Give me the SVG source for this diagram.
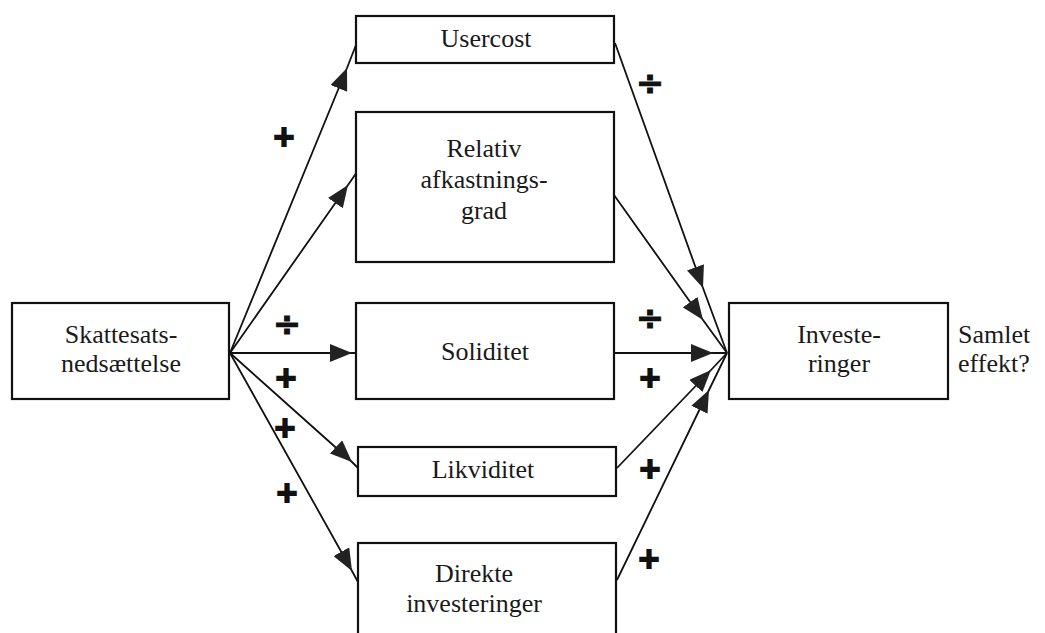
<svg xmlns="http://www.w3.org/2000/svg" width="1045" height="633" viewBox="0 0 1045 633">
<style>
.box{fill:#fff;stroke:#111;stroke-width:2.2}
.t{font-family:"Liberation Serif","Times New Roman",serif;font-size:26px;fill:#1a1a1a;text-anchor:middle}
.tl{font-family:"Liberation Serif","Times New Roman",serif;font-size:26px;fill:#1a1a1a}
.c{fill:none;stroke:#111;stroke-width:1.8}
.s{font-family:"DejaVu Sans",sans-serif;font-size:28px;font-weight:bold;fill:#111;stroke:#111;stroke-width:2;text-anchor:middle}
.d{font-family:"DejaVu Sans",sans-serif;font-size:34px;font-weight:bold;fill:#111;stroke:#111;stroke-width:0.9;text-anchor:middle}
</style>
<defs>
<marker id="ah" viewBox="0 0 22 18" refX="22" refY="9" markerWidth="22" markerHeight="18" markerUnits="userSpaceOnUse" orient="auto">
<path d="M0,0 L22,9 L0,18 Z" fill="#222"/>
</marker>
</defs>
<rect width="1045" height="633" fill="#fff"/>
<g id="connectors">
<path class="c" marker-mid="url(#ah)" d="M230,353 L347,68 L356,45"/>
<path class="c" marker-mid="url(#ah)" d="M230,353 L348,185 L357,172"/>
<path class="c" marker-mid="url(#ah)" d="M230,353 L352,353 L357,353"/>
<path class="c" marker-mid="url(#ah)" d="M230,353 L352,462 L358,468"/>
<path class="c" marker-mid="url(#ah)" d="M230,353 L352,571 L358,582"/>
<path class="c" marker-mid="url(#ah)" d="M615,43 L703,288 L727,353"/>
<path class="c" marker-mid="url(#ah)" d="M614,195 L703,320 L727,353"/>
<path class="c" marker-mid="url(#ah)" d="M614,353 L713,353 L727,353"/>
<path class="c" marker-mid="url(#ah)" d="M617,468 L711,370 L727,353"/>
<path class="c" marker-mid="url(#ah)" d="M617,580 L709,390 L727,353"/>
</g>
<g id="signs">
<text class="s" x="284" y="146">+</text>
<text class="d" x="287" y="335">÷</text>
<text class="s" x="286" y="387">+</text>
<text class="s" x="285" y="437">+</text>
<text class="s" x="287" y="502">+</text>
<text class="d" x="650" y="94">÷</text>
<text class="d" x="650" y="329">÷</text>
<text class="s" x="650" y="387">+</text>
<text class="s" x="650" y="478">+</text>
<text class="s" x="649" y="568">+</text>
</g>
<g id="skattesats">
<rect class="box" x="12" y="303" width="217" height="96"/>
<text class="t" x="121" y="343">Skattesats-</text>
<text class="t" x="121" y="372">nedsættelse</text>
</g>
<g id="usercost">
<rect class="box" x="356" y="16" width="258" height="47"/>
<text class="t" x="486" y="47">Usercost</text>
</g>
<g id="relativ">
<rect class="box" x="356" y="112" width="258" height="150"/>
<text class="t" x="484" y="157">Relativ</text>
<text class="t" x="484" y="188">afkastnings-</text>
<text class="t" x="484" y="219">grad</text>
</g>
<g id="soliditet">
<rect class="box" x="356" y="303" width="258" height="96"/>
<text class="t" x="485" y="360">Soliditet</text>
</g>
<g id="likviditet">
<rect class="box" x="358" y="447" width="258" height="49"/>
<text class="t" x="483" y="478">Likviditet</text>
</g>
<g id="direkte">
<rect class="box" x="358" y="543" width="258" height="100"/>
<text class="t" x="474" y="582">Direkte</text>
<text class="t" x="474" y="612">investeringer</text>
</g>
<g id="investeringer">
<rect class="box" x="729" y="303" width="219" height="96"/>
<text class="t" x="839" y="343">Investe-</text>
<text class="t" x="839" y="372">ringer</text>
</g>
<g id="samlet">
<text class="tl" x="958" y="343">Samlet</text>
<text class="tl" x="958" y="372">effekt?</text>
</g>
</svg>
